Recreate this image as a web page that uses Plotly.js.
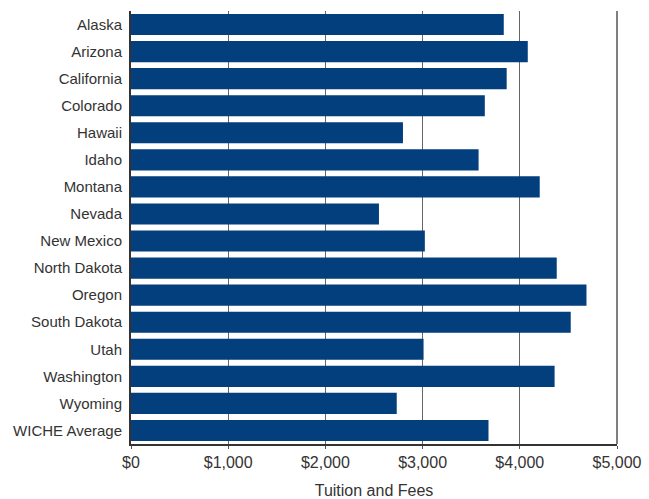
<!DOCTYPE html>
<html><head><meta charset="utf-8">
<script src="https://cdn.plot.ly/plotly-3.0.1.min.js"></script>
<style>html,body{margin:0;padding:0;background:#fff}#chart{width:649px;height:499px}</style>
</head><body><div id="chart"></div>
<script>
const states = ["Alaska","Arizona","California","Colorado","Hawaii","Idaho","Montana","Nevada","New Mexico","North Dakota","Oregon","South Dakota","Utah","Washington","Wyoming","WICHE Average"];
const tuition = [3835,4082,3865,3640,2798,3576,4205,2551,3023,4380,4686,4524,3010,4358,2734,3678];
const tickVals = [0,1000,2000,3000,4000,5000];
const tickText = ["$0","$1,000","$2,000","$3,000","$4,000","$5,000"];

const font = "Liberation Sans, Arial, sans-serif";
Plotly.newPlot("chart", [{
  type: "bar", orientation: "h",
  y: states, x: tuition,
  marker: {color: "#033e7d"},
  hoverinfo: "x+y"
}], {
  width: 649, height: 499,
  margin: {l: 131, r: 32, t: 11, b: 55},
  paper_bgcolor: "#fff", plot_bgcolor: "#fff",
  bargap: 0.22,
  showlegend: false,
  font: {family: font, color: "#333", size: 15},
  xaxis: {
    range: [0, 5000], tickvals: tickVals, ticktext: tickText,
    showgrid: true, gridcolor: "#666", gridwidth: 1,
    zeroline: false, showline: true, linecolor: "#333", linewidth: 1.5,
    ticks: "outside", ticklen: 3, tickcolor: "#555",
    tickfont: {family: font, size: 16, color: "#333"},
    title: {text: "Tuition and Fees", font: {family: font, size: 16, color: "#333"}, standoff: 15},
    fixedrange: true
  },
  yaxis: {
    categoryorder: "array", categoryarray: states, autorange: "reversed",
    showline: true, linecolor: "#333", linewidth: 2,
    ticks: "", ticklabelstandoff: 4,
    tickfont: {family: font, size: 15, color: "#333"},
    showgrid: false, fixedrange: true
  },
  shapes: [{type: "line", xref: "paper", yref: "paper", x0: 1, x1: 1, y0: 0, y1: 1, line: {color: "#555", width: 1.5}}]
}, {displayModeBar: false, staticPlot: true});
</script></body></html>
